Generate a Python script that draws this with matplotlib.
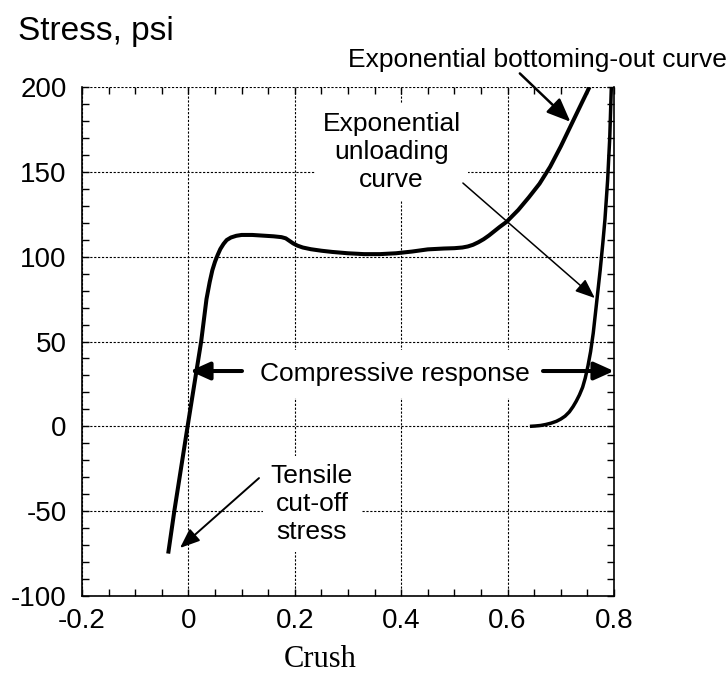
import matplotlib
matplotlib.use("Agg")
import matplotlib.pyplot as plt
from matplotlib.ticker import MultipleLocator

plt.rcParams['font.family'] = ['Liberation Sans', 'DejaVu Sans']
plt.rcParams['axes.unicode_minus'] = False

# Loading curve (crush vs stress)
load_crush = [-0.038, -0.0265, -0.0015, 0.024, 0.034, 0.040, 0.045, 0.050, 0.055, 0.060,
              0.066, 0.072, 0.080, 0.090, 0.100, 0.120, 0.140, 0.160, 0.175, 0.183,
              0.190, 0.197, 0.205, 0.215, 0.230, 0.250, 0.270, 0.300, 0.330, 0.360,
              0.390, 0.420, 0.450, 0.480, 0.500, 0.515, 0.525, 0.535, 0.545, 0.555,
              0.565, 0.575, 0.585, 0.598, 0.620, 0.640, 0.660, 0.680, 0.700, 0.720,
              0.740, 0.754]
load_stress = [-75, -50, 0, 50, 75, 85, 92, 97, 101, 104.5,
               107.5, 109.8, 111.3, 112.3, 112.8, 112.8, 112.4, 112.0, 111.5, 110.8,
               109.3, 107.8, 106.5, 105.4, 104.4, 103.5, 102.8, 102, 101.5, 101.5,
               102, 103, 104.3, 104.8, 105, 105.4, 106, 107, 108.5, 110.3,
               112.5, 115, 117.5, 120.5, 127.5, 135, 143, 153, 165, 178,
               191, 200]

# Unloading curve
unload_crush = [0.642, 0.652, 0.662, 0.672, 0.682, 0.692, 0.700, 0.708, 0.716, 0.723,
                0.729, 0.735, 0.741, 0.746, 0.751, 0.756, 0.761, 0.767, 0.774, 0.779,
                0.783, 0.788, 0.792, 0.795]
unload_stress = [0, 0.2, 0.5, 1.1, 1.9, 3, 4.3, 6, 8.5, 11.6,
                 14.8, 18.5, 23, 28.5, 35.5, 44, 55, 72, 92, 108,
                 122, 145, 170, 200]

x_ticks = [-0.2, 0, 0.2, 0.4, 0.6, 0.8]
x_labels = ['-0.2', '0', '0.2', '0.4', '0.6', '0.8']
y_ticks = [-100, -50, 0, 50, 100, 150, 200]
y_labels = ['-100', '-50', '0', '50', '100', '150', '200']

fig = plt.figure(figsize=(7.28, 6.73), dpi=100)
ax = fig.add_axes([82/728, 77/673, 532/728, 509/673])

ax.plot(load_crush, load_stress, color='black', lw=2.9, solid_capstyle='butt',
        solid_joinstyle='round', zorder=4)
ax.plot(unload_crush, unload_stress, color='black', lw=2.5, solid_capstyle='butt',
        solid_joinstyle='round', zorder=4)

ax.set_xlim(-0.2, 0.8)
ax.set_ylim(-100, 200)
ax.set_xticks(x_ticks)
ax.set_xticklabels(x_labels)
ax.set_yticks(y_ticks)
ax.set_yticklabels(y_labels)
ax.xaxis.set_minor_locator(MultipleLocator(0.05))
ax.yaxis.set_minor_locator(MultipleLocator(10))
ax.tick_params(which='both', direction='in', top=True, right=True, length=5, width=1, colors='black')
ax.tick_params(axis='x', which='major', labelsize=20, pad=9)
ax.tick_params(axis='y', which='major', labelsize=20, pad=11)
ax.grid(True, which='major', color='black', linestyle=(0, (2, 1.5)), linewidth=0.8)
for side in ['left', 'bottom', 'right']:
    ax.spines[side].set_linewidth(1.2)
ax.spines['top'].set_visible(False)

box = dict(boxstyle='square,pad=0.3', facecolor='white', edgecolor='none')

ax.text(0.3818, 161.6, 'Exponential\nunloading\ncurve', ha='center', va='center',
        fontsize=19, linespacing=1.2, bbox=box, zorder=3)
ax.text(0.389, 26.5, 'Compressive response', ha='center', va='baseline',
        fontsize=19, bbox=dict(boxstyle='square,pad=0.45', facecolor='white', edgecolor='none'), zorder=3)
ax.text(0.2323, -45.8, 'Tensile\ncut-off\nstress', ha='center', va='center',
        fontsize=19, linespacing=1.2, bbox=box, zorder=3)

def arrow(start, tip, lw, hl, hw, ms=20):
    ax.annotate('', xy=tip, xytext=start, annotation_clip=False,
                arrowprops=dict(arrowstyle=f'-|>,head_length={hl},head_width={hw}',
                                color='black', lw=lw, shrinkA=0, shrinkB=0,
                                mutation_scale=ms), zorder=5)

arrow((0.623, 208), (0.718, 179.5), 1.8, 0.72, 0.3)
arrow((0.516, 143.4), (0.764, 75.6), 1.1, 0.6, 0.24)
arrow((0.1008, 32.6), (0.003, 32.6), 2.9, 0.6, 0.27)
arrow((0.6665, 32.6), (0.800, 32.6), 2.9, 0.6, 0.27)
arrow((0.1327, -30.5), (-0.0158, -71.7), 1.4, 0.6, 0.24)

fig.text(18/728, 1 - 40/673, 'Stress, psi', fontsize=24, ha='left', va='baseline')
fig.text(537/728, 1 - 67/673, 'Exponential bottoming-out curve', fontsize=19,
         ha='center', va='baseline')
fig.text(320/728, 1 - 667/673, 'Crush', fontsize=22, ha='center', va='baseline',
         family=['Liberation Serif', 'DejaVu Serif'])

fig.savefig('out.png', dpi=100)
